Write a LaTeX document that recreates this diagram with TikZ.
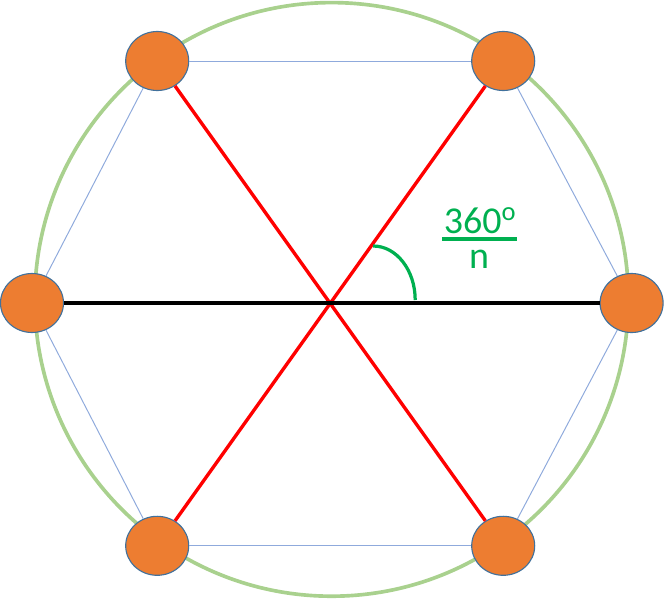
\documentclass[tikz,border=0pt]{standalone}
\usepackage{fontspec}
\setmainfont{Carlito}
\usetikzlibrary{shapes.geometric}

\definecolor{vfill}{HTML}{ED7D31}
\definecolor{vline}{HTML}{41719C}
\definecolor{hexline}{HTML}{8FAADC}
\definecolor{ringcol}{HTML}{A9D18E}
\definecolor{anglecol}{HTML}{00B050}

\tikzset{
  vertex/.style={ellipse, draw=vline, line width=0.8pt, fill=vfill,
    minimum width=1.575cm, minimum height=1.475cm, inner sep=0pt},
  hexedge/.style={draw=hexline, line width=0.7pt},
  diag/.style={draw=red, line width=2.4pt},
  anglelabel/.style={text=anglecol, font=\fontsize{27}{29}\selectfont, inner sep=0pt}
}

\begin{document}
\begin{tikzpicture}
\useasboundingbox (-8.29,-7.425) rectangle (8.31,7.575);

\draw[ringcol, line width=2.6pt] (0,0.09) circle (7.42);

\node[vertex] (L)  at (-7.49,0)     {};
\node[vertex] (R)  at (7.5,0)       {};
\node[vertex] (TL) at (-4.36,6.05)  {};
\node[vertex] (TR) at (4.29,6.05)   {};
\node[vertex] (BL) at (-4.36,-6.07) {};
\node[vertex] (BR) at (4.29,-6.07)  {};

\draw[hexedge] (TL) -- (TR);
\draw[hexedge] (TR) -- (R);
\draw[hexedge] (R) -- (BR);
\draw[hexedge] (BR) -- (BL);
\draw[hexedge] (BL) -- (L);
\draw[hexedge] (L) -- (TL);

\draw[diag] (TL) -- (BR);
\draw[diag] (TR) -- (BL);
\draw[black, line width=3pt] (L) -- (R);

\draw[anglecol, line width=2.3pt] (1.04,1.425) arc[start angle=90, end angle=0, x radius=1.05, y radius=1.35];

\node[anglelabel, anchor=base] (num) at (3.71,1.75)  {360\textsuperscript{o}};
\node[anglelabel, anchor=base] (den) at (3.69,0.875) {n};
\draw[anglecol, line width=2.2pt] (2.76,1.6) -- (4.64,1.6);
\end{tikzpicture}
\end{document}
